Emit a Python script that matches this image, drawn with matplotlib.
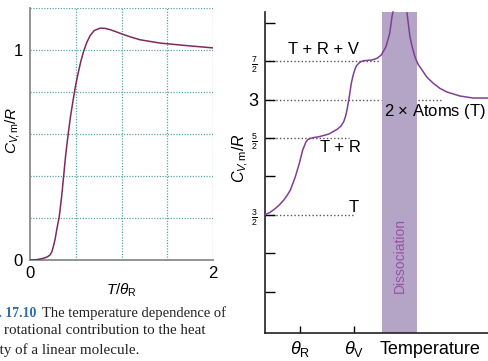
import matplotlib.pyplot as plt

plt.rcParams['font.family'] = ['Liberation Sans', 'DejaVu Sans']
plt.rcParams['mathtext.fontset'] = 'custom'
plt.rcParams['mathtext.rm'] = 'Liberation Sans'
plt.rcParams['mathtext.it'] = 'Liberation Sans:italic'
plt.rcParams['mathtext.bf'] = 'Liberation Sans:bold'

# rotational contribution C/R against T/theta_R
rot_t = [0.0, 0.08, 0.145, 0.19, 0.219, 0.24, 0.255, 0.275, 0.292, 0.320, 0.346,
         0.364, 0.39, 0.419, 0.445, 0.473, 0.50, 0.528, 0.555, 0.583, 0.62,
         0.656, 0.70, 0.765, 0.82, 0.874, 0.94, 1.0, 1.1, 1.2, 1.42, 1.71, 2.0]
rot_c = [0.0, 0.002, 0.008, 0.015, 0.024, 0.040, 0.064, 0.100, 0.144, 0.207,
         0.303, 0.383, 0.500, 0.606, 0.690, 0.766, 0.835, 0.893, 0.945, 0.989,
         1.035, 1.068, 1.092, 1.104, 1.103, 1.097, 1.087, 1.077, 1.062, 1.049,
         1.033, 1.021, 1.010]

# diatomic gas: molecule below dissociation, atoms above
mol_t = [0.0, 0.5, 1.03, 1.45, 1.87, 2.2, 2.53, 3.03, 3.43, 3.77, 4.10, 4.3,
         4.53, 4.9, 5.37, 6.37, 7.20, 7.6, 7.87, 8.05, 8.20, 8.43, 8.63, 8.8,
         8.97, 9.15, 9.37, 9.6, 9.87, 10.7, 11.2, 11.63, 12.1, 12.47, 12.7, 12.8]
mol_c = [1.50, 1.53, 1.581, 1.63, 1.690, 1.75, 1.820, 1.993, 2.168, 2.342,
         2.450, 2.480, 2.494, 2.506, 2.515, 2.550, 2.611, 2.655, 2.711, 2.780,
         2.864, 3.037, 3.211, 3.310, 3.385, 3.440, 3.472, 3.494, 3.506, 3.515,
         3.537, 3.580, 3.688, 3.863, 4.080, 4.14]
atom_t = [14.2, 14.3, 14.5, 14.75, 15.0, 15.3, 15.7, 16.2, 16.8, 17.5, 18.2,
          19.5, 20.8, 22.3]
atom_c = [4.128, 4.02, 3.815, 3.67, 3.554, 3.46, 3.385, 3.29, 3.215, 3.145,
          3.098, 3.046, 3.020, 3.020]

theta_r, theta_v = 3.5, 8.9
dissoc = (11.7, 15.2)

W, H = 488, 361
fig = plt.figure(figsize=(W / 100, H / 100), dpi=100)
teal = '#5aa8a8'
grey = '#8a8a8a'

# ---- left: rotational heat capacity ----
ax1 = fig.add_axes([30 / W, 1 - 260 / H, 183 / W, 252 / H])
ax1.set_xlim(0, 2)
ax1.set_ylim(0, 1.2)
for x in [0.5, 1.0, 1.5, 2.0]:
    ax1.axvline(x, color=teal, lw=0.9, ls=(0, (1, 1.2)), zorder=1)
for y in [0.2, 0.4, 0.6, 0.8, 1.0, 1.2]:
    ax1.axhline(y, color=teal, lw=0.9, ls=(0, (1, 1.2)), zorder=1)
for s in ['top', 'right']:
    ax1.spines[s].set_visible(False)
for s in ['left', 'bottom']:
    ax1.spines[s].set_color(grey)
    ax1.spines[s].set_linewidth(1.3)
ax1.plot(rot_t, rot_c, color='#7d2b5e', lw=1.1, zorder=3)
ax1.set_xticks([0, 2])
ax1.set_yticks([0, 1])
ax1.tick_params(length=0, labelsize=12, pad=4)
ax1.tick_params(axis='y', pad=5)
fig.text(13 / W, 1 - 130 / H, r'$C_{V\!,\mathrm{m}}/R$', rotation=90,
         ha='center', va='center', fontsize=11)
ax1.set_xlabel(r'$T/\theta_{\mathrm{R}}$', fontsize=11, labelpad=1)

# caption, running off the left edge
fig.text(36 / W, 1 - 313 / H, 'Fig. 17.10', ha='right', va='center',
         fontsize=10, fontweight='bold', color='#2f6fa8', family='Liberation Serif')
fig.text(42 / W, 1 - 313 / H, 'The temperature dependence of', ha='left', va='center',
         fontsize=10.5, family='Liberation Serif', color='#222222')
fig.text(205 / W, 1 - 331 / H, 'the rotational contribution to the heat', ha='right',
         va='center', fontsize=10.8, family='Liberation Serif', color='#222222')
fig.text(139 / W, 1 - 350 / H, 'capacity of a linear molecule.', ha='right',
         va='center', fontsize=10.8, family='Liberation Serif', color='#222222')

# ---- right: heat capacity of a diatomic gas ----
ax2 = fig.add_axes([265 / W, 1 - 333 / H, 223 / W, 321 / H])
ax2.set_xlim(0, 22.3)
ax2.set_ylim(-0.04, 4.14)
for s in ['top', 'right']:
    ax2.spines[s].set_visible(False)
for s in ['left', 'bottom']:
    ax2.spines[s].set_linewidth(1.2)
    ax2.spines[s].set_color('#222222')

ax2.axvspan(*dissoc, color='#b4a5c6', lw=0, zorder=0)
ax2.text(sum(dissoc) / 2, 0.97, 'Dissociation', rotation=90, ha='center',
         va='center', fontsize=10, color='#9a4fa5')

dots = dict(color='#555555', lw=1.0, ls=(0, (1, 1.6)), zorder=1)
ax2.plot([0, 11.4], [3.5, 3.5], **dots)
ax2.plot([0, 11.6], [3.0, 3.0], **dots)
ax2.plot([15.3, 17.8], [3.0, 3.0], **dots)
ax2.plot([0, 8.4], [2.5, 2.5], **dots)
ax2.plot([0, 8.9], [1.5, 1.5], **dots)

curve = '#7f3f93'
ax2.plot(mol_t, mol_c, color=curve, lw=1.1, zorder=3, clip_on=False)
ax2.plot(atom_t, atom_c, color=curve, lw=1.1, zorder=3, clip_on=False)

ax2.text(5.8, 3.56, 'T + R + V', ha='center', va='bottom', fontsize=12)
ax2.text(7.5, 2.37, 'T + R', ha='center', va='center', fontsize=12)
ax2.text(8.4, 1.60, 'T', ha='left', va='center', fontsize=12)
ax2.text(11.9, 2.84, r'2 $\times$ Atoms (T)', ha='left', va='center', fontsize=12)

yt = [0.5, 1.0, 1.5, 2.0, 2.5, 3.0, 3.5, 4.0]
yl = ['', '', r'$\frac{3}{2}$', '', r'$\frac{5}{2}$', '3', r'$\frac{7}{2}$', '']
ax2.set_yticks(yt)
ax2.set_yticklabels(yl)
for lab, v in zip(ax2.get_yticklabels(), yl):
    lab.set_fontsize(13 if v == '3' else 9)
ax2.tick_params(axis='y', direction='in', length=7, width=1.0, pad=5)
ax2.set_xticks([theta_r, theta_v])
ax2.set_xticklabels([r'$\theta_{\mathrm{R}}$', r'$\theta_{\mathrm{V}}$'], fontsize=13)
ax2.tick_params(axis='x', direction='in', length=5, width=1.0, pad=4)

fig.text(430 / W, 1 - 350 / H, 'Temperature', ha='center', va='center', fontsize=13)
fig.text(241 / W, 1 - 158 / H, r'$C_{V\!,\mathrm{m}}/R$', rotation=90,
         ha='center', va='center', fontsize=11.5)

fig.savefig('out.png', dpi=100, facecolor='white')
